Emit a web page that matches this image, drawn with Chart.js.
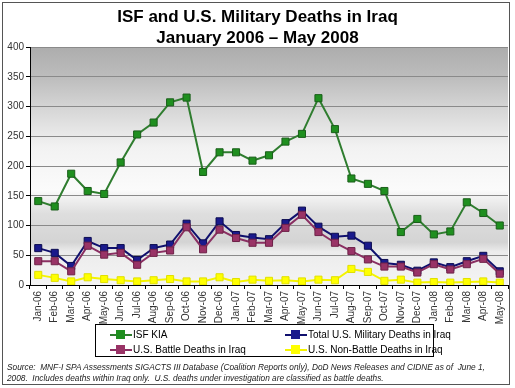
<!DOCTYPE html>
<html>
<head>
<meta charset="utf-8">
<script src="https://cdn.jsdelivr.net/npm/chart.js@4.4.0/dist/chart.umd.min.js"></script>
<style>
  body { margin:0; background:#fff; font-family:'Liberation Sans', Arial, sans-serif; }
  #wrap { position:relative; width:515px; height:388px; overflow:hidden; }
  #frame { position:absolute; left:2px; top:2px; width:506px; height:381px; border:1px solid #555; box-sizing:content-box; }
  canvas { position:absolute; left:0; top:0; }
  .title { position:absolute; left:0; width:515px; text-align:center; font-weight:bold; font-size:17px; color:#000; }
  #legend { position:absolute; left:95px; top:324px; width:337px; height:31px; border:1px solid #000; background:#fff; font-size:10px; }
  .item { position:absolute; height:12px; line-height:12px; white-space:nowrap; }
  .mk { position:absolute; left:0; top:0; width:22px; height:12px; }
  .mk i { position:absolute; left:0; top:5px; width:22px; height:2px; }
  .mk b { position:absolute; left:6px; top:1px; width:9px; height:9px; }
  .item span { position:absolute; left:23px; top:0; }
  #source { position:absolute; left:7px; top:362px; font-size:8.3px; font-style:italic; color:#222; line-height:11px; white-space:nowrap; }
</style>
</head>
<body>
<div id="wrap">
  <canvas id="chart" width="515" height="388"></canvas>
  <div id="frame"></div>
  <div class="title" style="top:7px">ISF and U.S. Military Deaths in Iraq</div>
  <div class="title" style="top:28px">January 2006 – May 2008</div>
  <div id="legend"></div>
  <div id="source">Source:&nbsp; MNF-I SPA Assessments SIGACTS III Database (Coalition Reports only), DoD News Releases and CIDNE as of&nbsp; June 1,<br>2008.&nbsp; Includes deaths within Iraq only.&nbsp; U.S. deaths under investigation are classified as battle deaths.</div>
</div>
<script>
const months = ['Jan-06','Feb-06','Mar-06','Apr-06','May-06','Jun-06','Jul-06','Aug-06','Sep-06','Oct-06','Nov-06','Dec-06',
  'Jan-07','Feb-07','Mar-07','Apr-07','May-07','Jun-07','Jul-07','Aug-07','Sep-07','Oct-07','Nov-07','Dec-07',
  'Jan-08','Feb-08','Mar-08','Apr-08','May-08'];
const isfKia      = [141,132,187,158,153,206,253,273,307,315,190,223,223,209,218,241,254,314,262,179,170,158,89,111,85,90,139,121,100];
const usTotal     = [62,54,32,74,62,62,42,62,68,103,70,107,84,80,77,104,125,98,81,83,66,37,34,24,38,30,40,49,23];
const usBattle    = [40,40,23,66,51,54,34,54,58,97,60,93,79,71,71,96,118,89,71,57,43,31,31,21,35,26,35,44,19];
const usNonBattle = [17,12,6,13,10,8,6,8,10,6,6,13,5,9,7,8,6,9,8,27,22,7,9,4,5,4,5,6,4];
const yTicks = [0,50,100,150,200,250,300,350,400];

const seriesInfo = [
  { label:'ISF KIA', data:isfKia, line:'#2f7d2f', fill:'#1f8f1f', edge:'#1a5e1a', order:3 },
  { label:'Total U.S. Military Deaths in Iraq', data:usTotal, line:'#10106e', fill:'#1a1a8c', edge:'#0c0c50', order:2 },
  { label:'U.S. Battle Deaths in Iraq', data:usBattle, line:'#8a2f62', fill:'#993366', edge:'#6e2248', order:1 },
  { label:'U.S. Non-Battle Deaths in Iraq', data:usNonBattle, line:'#f4f400', fill:'#ffff00', edge:'#e0e000', order:0 }
];

const bgPlugin = {
  id:'bg',
  beforeDraw(chart) {
    const { ctx, chartArea:a } = chart;
    const g = ctx.createLinearGradient(0, a.top, 0, a.bottom);
    g.addColorStop(0, '#adadad');
    g.addColorStop(0.13, '#bdbdbd');
    g.addColorStop(0.26, '#d6d6d6');
    g.addColorStop(0.42, '#f2f2f2');
    g.addColorStop(0.6, '#fbfbfb');
    g.addColorStop(0.7, '#dedede');
    g.addColorStop(0.82, '#d4d4d4');
    g.addColorStop(0.86, '#ececec');
    g.addColorStop(1, '#f4f4f4');
    ctx.save();
    ctx.fillStyle = g;
    ctx.fillRect(a.left, a.top, a.right - a.left, a.bottom - a.top);
    ctx.restore();
  }
};

new Chart(document.getElementById('chart'), {
  type:'line',
  data:{
    labels:months,
    datasets:seriesInfo.map(s => ({
      label:s.label, data:s.data, order:s.order,
      borderColor:s.line, borderWidth:2,
      pointStyle:'rect', pointRadius:5, pointBorderWidth:1,
      pointBackgroundColor:s.fill, pointBorderColor:s.edge,
      tension:0, fill:false
    }))
  },
  options:{
    responsive:false, animation:false,
    layout:{ padding:{ top:47, left:4, right:7, bottom:0 } },
    plugins:{ legend:{ display:false }, tooltip:{ enabled:false } },
    scales:{
      x:{
        offset:true,
        grid:{ display:true, drawOnChartArea:false, offset:true, tickLength:4, color:'#000' },
        border:{ color:'#000' },
        ticks:{ minRotation:90, maxRotation:90, autoSkip:false, padding:2,
          font:{ family:"'Liberation Sans', Arial", size:10 }, color:'#333' },
        afterFit(s) { s.height = 103; }
      },
      y:{
        min:0, max:400,
        afterBuildTicks(s) { s.ticks = yTicks.map(v => ({ value:v })); },
        grid:{ color:'#8a8a8a', tickLength:4, tickColor:'#000' },
        border:{ color:'#000' },
        ticks:{ padding:2, font:{ family:"'Liberation Sans', Arial", size:10 }, color:'#333' },
        afterFit(s) { s.width = 26; }
      }
    }
  },
  plugins:[bgPlugin]
});

// legend box
const legendPos = [[14,4],[189,4],[14,19],[189,19]];
document.getElementById('legend').innerHTML = seriesInfo.map((s,i) =>
  `<div class="item" style="left:${legendPos[i][0]}px;top:${legendPos[i][1]}px">
     <div class="mk"><i style="background:${s.line}"></i><b style="background:${s.fill}"></b></div>
     <span>${s.label}</span></div>`).join('');
</script>
</body>
</html>
